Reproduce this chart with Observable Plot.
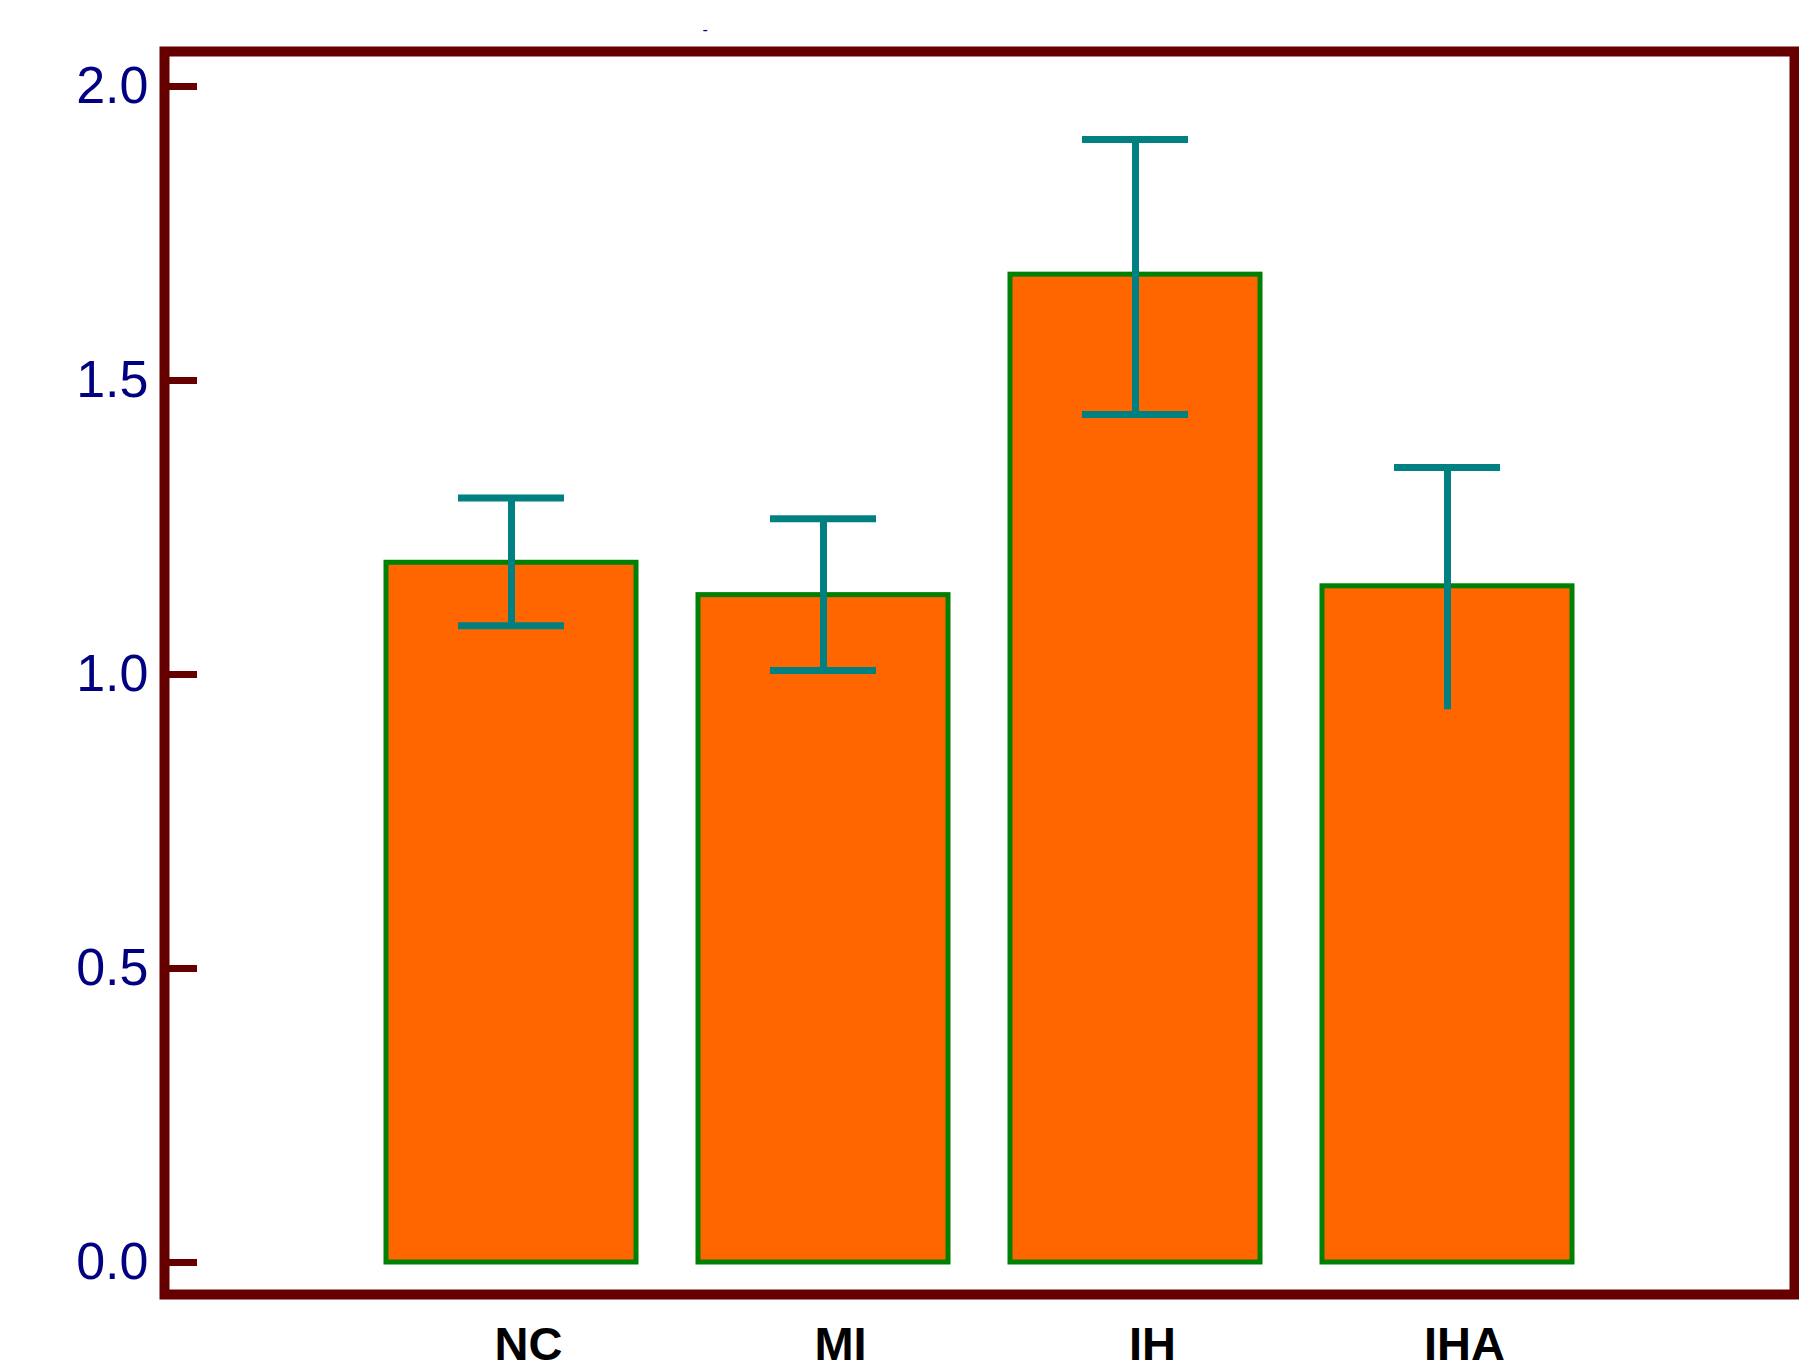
<!DOCTYPE html>
<html>
<head>
<meta charset="utf-8">
<script src="https://cdn.jsdelivr.net/npm/d3@7"></script>
<script src="https://cdn.jsdelivr.net/npm/@observablehq/plot@0.6"></script>
<style>
  html, body { margin: 0; padding: 0; background: #ffffff; }
  #chart svg { display: block; }
</style>
</head>
<body>
<div id="chart"></div>
<script>
// ---- data ----
const categories = ["NC", "MI", "IH", "IHA"];
const means      = [1.19, 1.135, 1.68, 1.15];
const errLow     = [1.083, 1.007, 1.442, 0.94];
const errHigh    = [1.30, 1.265, 1.91, 1.352];
const lowCapShown = [true, true, true, false];
const yTicks     = [0, 0.5, 1.0, 1.5, 2.0];
const titleText  = "-";

const rows = categories.map((c, i) => ({
  cat: c, mean: means[i], lo: errLow[i], hi: errHigh[i], lowCap: lowCapShown[i]
}));

const maroon = "#660000";
const navy = "#000080";
const teal = "#008080";

const chart = Plot.plot({
  width: 1799,
  height: 1370,
  marginLeft: 164,
  marginRight: 5,
  marginTop: 51,
  marginBottom: 76,
  style: { background: "#ffffff", fontFamily: "'Liberation Sans', Arial, sans-serif" },
  x: { domain: categories, range: [354.4, 1604], paddingInner: 0.2, paddingOuter: 0.1, label: null },
  y: { domain: [0, 2], range: [1262, 86], label: null },
  marks: [
    Plot.barY(rows, { x: "cat", y: "mean", fill: "#FF6600", stroke: "#008000", strokeWidth: 5 }),
    Plot.ruleX(rows, { x: "cat", y1: "lo", y2: "hi", stroke: teal, strokeWidth: 7 }),
    Plot.tickY(rows, { x: "cat", y: "hi", stroke: teal, strokeWidth: 7, insetLeft: 72, insetRight: 72 }),
    Plot.tickY(rows.filter(d => d.lowCap), { x: "cat", y: "lo", stroke: teal, strokeWidth: 7, insetLeft: 72, insetRight: 72 }),
    Plot.frame({ stroke: maroon, strokeWidth: 10 }),
    Plot.axisY({ ticks: yTicks, anchor: "left", tickSize: -33, fill: "none", stroke: maroon, strokeWidth: 7, tickFormat: () => "" }),
    Plot.axisY({ ticks: yTicks, anchor: "left", tickSize: 0, tickPadding: 16, tickFormat: d3.format(".1f"),
                 fill: navy, fontSize: 52, label: null }),
    Plot.axisX({ anchor: "bottom", tickSize: 0, tickPadding: 32, dx: 17, fill: "#000000",
                 fontSize: 47, fontWeight: "bold", label: null }),
    Plot.text([titleText], { frameAnchor: "top-left", text: d => d, dx: 538, dy: -28, fill: navy, fontSize: 16 })
  ]
});

document.getElementById("chart").appendChild(chart);
</script>
</body>
</html>
